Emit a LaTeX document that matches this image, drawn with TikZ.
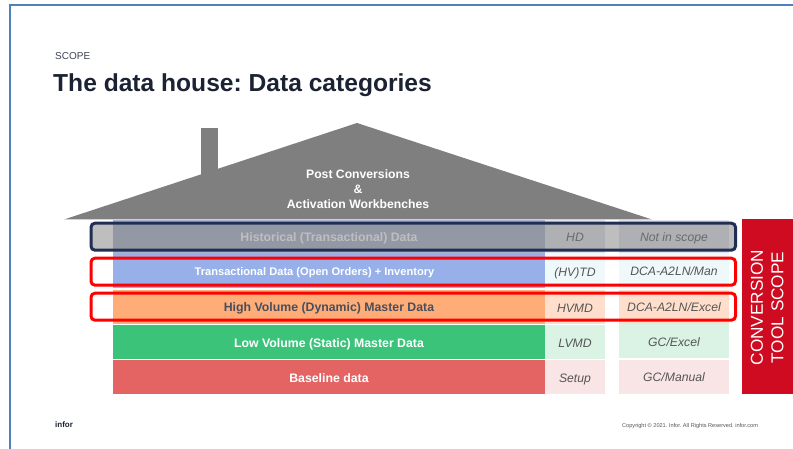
\documentclass[tikz,border=0pt]{standalone}
\usepackage{fontspec}
\setmainfont{Liberation Sans}
\frenchspacing
\definecolor{framec}{HTML}{4F81BD}
\definecolor{roofc}{HTML}{7F7F7F}
\definecolor{ink}{HTML}{1B2233}
\definecolor{navy}{HTML}{1F2E52}
\definecolor{barH}{HTML}{A9B3CD}
\definecolor{barT}{HTML}{97B0EA}
\definecolor{barV}{HTML}{FFAD78}
\definecolor{barL}{HTML}{3BC37A}
\definecolor{barB}{HTML}{E46464}
\definecolor{cellH}{HTML}{E1E3EB}
\definecolor{cellT}{HTML}{EFF9FB}
\definecolor{cellV}{HTML}{FFDFCB}
\definecolor{cellL}{HTML}{DBF3E5}
\definecolor{cellB}{HTML}{F9E5E5}
\definecolor{scopec}{HTML}{CE0B20}
\definecolor{celltext}{HTML}{555555}
\newcommand{\fs}[1]{\fontsize{#1}{#1}\selectfont}
\tikzset{
  x=1pt,y=-1pt,
  bar/.style={anchor=north west,minimum width=432pt,inner sep=0pt,outer sep=0pt,text=white,font=\fs{12.3}\bfseries,text height=10pt,text depth=0pt},
  cella/.style={anchor=north west,minimum width=60pt,inner sep=0pt,outer sep=0pt,text=celltext,font=\fs{12.2}\itshape,text height=10.6pt,text depth=0pt},
  cellb/.style={anchor=north west,minimum width=110pt,inner sep=0pt,outer sep=0pt,text=celltext,font=\fs{12.2}\itshape,text height=10pt,text depth=0pt},
  outline/.style={anchor=north west,minimum width=644.5pt,inner sep=0pt,outer sep=0pt,rounded corners=4pt,line width=3pt,minimum height=27pt},
}
\begin{document}
\begin{tikzpicture}
\useasboundingbox (0,0) rectangle (793,449);
\fill[white] (0,0) rectangle (793,449);
% slide frame
\draw[framec,line width=2pt] (10,449) -- (10,5) -- (793,5);
% titles
\node[anchor=base west,inner sep=0pt,text=ink!85,font=\fs{10}] (kicker) at (55,60) {SCOPE};
\node[anchor=base west,inner sep=0pt,text=ink,font=\fs{24.6}\bfseries] (title) at (53,91.5) {The data house: Data categories};
% roof and chimney
\fill[roofc] (201,128) rectangle (218,180);
\fill[roofc] (64,219.5) -- (357,123) -- (652,219.5) -- cycle;
\node[align=center,text=white,inner sep=0pt,font=\fs{12.2}\bfseries] (roof) at (358,189) {Post Conversions\\[2.8pt]\&\\[2.8pt]Activation Workbenches};
% category bars
\node[bar,fill=barH,minimum height=33pt] (h) at (113,220) {Historical (Transactional) Data};
\node[bar,fill=barT,minimum height=35pt] (t) at (113,253.5) {\hspace{-29pt}\fs{11.1}\bfseries Transactional Data (Open Orders) + Inventory};
\node[bar,fill=barV,minimum height=33.5pt,text=ink!80] (v) at (113,290) {High Volume (Dynamic) Master Data};
\node[bar,fill=barL,minimum height=34pt] (l) at (113,325) {Low Volume (Static) Master Data};
\node[bar,fill=barB,minimum height=34pt] (b) at (113,360) {Baseline data};
% short names
\node[cella,fill=cellH,minimum height=33pt] (h2) at (545,220) {HD};
\node[cella,fill=cellT,minimum height=35pt] (t2) at (545,253.5) {(HV)TD};
\node[cella,fill=cellV,minimum height=33.5pt] (v2) at (545,290) {HVMD};
\node[cella,fill=cellL,minimum height=34pt] (l2) at (545,325) {LVMD};
\node[cella,fill=cellB,minimum height=34pt] (b2) at (545,360) {Setup};
% tools
\node[cellb,fill=cellH,minimum height=33pt] (h3) at (619,220) {Not in scope};
\node[cellb,fill=cellT,minimum height=35pt] (t3) at (619,253.5) {DCA-A2LN/Man};
\node[cellb,fill=cellV,minimum height=33.5pt] (v3) at (619,290) {DCA-A2LN/Excel};
\node[cellb,fill=cellL,minimum height=34pt] (l3) at (619,324) {GC/Excel};
\node[cellb,fill=cellB,minimum height=34pt] (b3) at (619,359.5) {GC/Manual};
% scope tag
\node[anchor=north west,fill=scopec,minimum width=51pt,minimum height=175pt,inner sep=0pt,outer sep=0pt] (scope) at (742,219) {};
\node[rotate=90,align=center,text=white,inner sep=0pt,font=\fs{17.2}] (scopetext) at (767.2,307.5) {CONVERSION\\[3.5pt]TOOL SCOPE};
% outlines
\node[outline,draw=navy,fill=roofc,fill opacity=.5,draw opacity=1] (o1) at (91,223.2) {};
\node[outline,draw=red] (o2) at (91,258.2) {};
\node[outline,draw=red] (o3) at (91,293.2) {};
% footer
\node[anchor=base west,inner sep=0pt,text=ink,font=\fs{8}\bfseries] (infor) at (55,427) {infor};
\node[anchor=base west,inner sep=0pt,text=celltext,font=\fs{5.6}] (copy) at (622,427.5) {Copyright © 2021. Infor.  All Rights Reserved. infor.com};
\end{tikzpicture}
\end{document}
